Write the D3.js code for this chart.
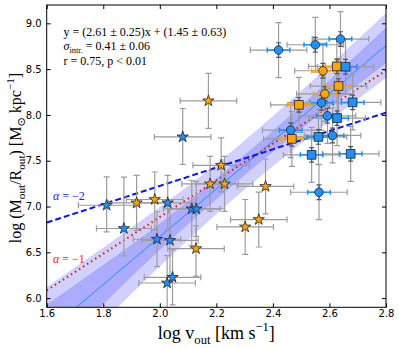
<!DOCTYPE html>
<html>
<head>
<meta charset="utf-8">
<script src="https://cdn.jsdelivr.net/npm/d3@7"></script>
<style>
  body { margin: 0; background: #fff; }
  svg { display: block; }
</style>
</head>
<body>
<div id="chart"></div>
<script>
// ___________________________ data ___________________________
// v = log v_out, m = log(M_out/R_out)
const starBlueV = [1.812, 1.873, 1.990, 2.028, 2.036, 2.026, 2.045, 2.081, 2.113, 2.129];
const starBlueM = [7.014, 6.760, 6.643, 7.040, 6.630, 6.165, 6.227, 7.760, 6.974, 6.974];
const starBlueXErr = [0.10, 0.097, 0.084, 0.10, 0.10, 0.10, 0.10, 0.10, 0.10, 0.10];
const starBlueYLo = [0.29, 0.30, 0.30, 0.30, 0.40, 0.30, 0.30, 0.30, 0.40, 0.30];
const starBlueYHi = [0.31, 0.56, 0.30, 0.30, 0.34, 0.30, 0.30, 0.31, 0.31, 0.30];

const starOrangeV = [1.918, 1.982, 2.128, 2.172, 2.178, 2.217, 2.229, 2.302, 2.350, 2.374];
const starOrangeM = [7.040, 7.077, 6.540, 8.154, 7.247, 7.450, 7.247, 6.777, 6.858, 7.219];
const starOrangeXErr = [0.10, 0.10, 0.10, 0.10, 0.10, 0.10, 0.10, 0.10, 0.10, 0.10];
const starOrangeYLo = [0.30, 0.33, 0.30, 0.30, 0.30, 0.29, 0.30, 0.30, 0.30, 0.30];
const starOrangeYHi = [0.30, 0.30, 0.25, 0.30, 0.30, 0.30, 0.30, 0.30, 0.30, 0.30];

const circleBlueV = [2.420, 2.463, 2.550, 2.563, 2.572, 2.593, 2.611, 2.639];
const circleBlueM = [8.708, 7.834, 8.766, 7.156, 8.132, 7.990, 7.776, 8.828];
const circleOrangeV = [2.577, 2.584];
const circleOrangeM = [8.482, 8.230];
const squareBlueV = [2.537, 2.561, 2.627, 2.657, 2.675, 2.682];
const squareBlueM = [7.564, 7.760, 7.965, 8.526, 7.575, 8.137];
const squareOrangeV = [2.467, 2.492, 2.626, 2.632];
const squareOrangeM = [7.739, 8.110, 8.530, 8.315];
// errors of the high-velocity group (total in grey, inner part in colour)
const outerXErr = 0.10, innerXErr = 0.04, outerYErr = 0.30, innerYErr = 0.08;

// fit and its shaded bands
const fitSlope = 2.61, fitIntercept = 1.45;
const bandV = [1.6, 1.8, 2.0, 2.2, 2.4, 2.6, 2.8];
const innerLo = [5.326, 5.938, 6.530, 7.082, 7.604, 8.096, 8.568];
const innerHi = [5.926, 6.358, 6.810, 7.302, 7.824, 8.376, 8.948];
const outerLo = [5.136, 5.748, 6.350, 6.922, 7.444, 7.936, 8.408];
const outerHi = [6.116, 6.548, 6.990, 7.462, 7.984, 8.536, 9.108];

// reference slopes: alpha = -2 and alpha = -1
const alpha2Slope = 1, alpha2Intercept = 5.225;
const alpha1Slope = 2, alpha1Intercept = 2.885;

const xTicks = [1.6, 1.8, 2.0, 2.2, 2.4, 2.6, 2.8];
const yTicks = [6.0, 6.5, 7.0, 7.5, 8.0, 8.5, 9.0];

// ___________________________ chart ___________________________
const width = 399, height = 348;
const margin = { top: 5, right: 13, bottom: 40.7, left: 46.7 };
const serif = "'Liberation Serif', 'Times New Roman', serif";
const blue = "#1e90ff", orange = "#ffa500";

const svg = d3.select("#chart").append("svg")
    .attr("width", width)
    .attr("height", height);

const x = d3.scaleLinear().domain([1.6, 2.8]).range([margin.left, width - margin.right]);
const y = d3.scaleLinear().domain([5.9, 9.2]).range([height - margin.bottom, margin.top]);

svg.append("clipPath").attr("id", "plot-clip")
    .append("rect")
    .attr("x", x.range()[0]).attr("y", y.range()[1])
    .attr("width", x.range()[1] - x.range()[0])
    .attr("height", y.range()[0] - y.range()[1]);

const plot = svg.append("g").attr("clip-path", "url(#plot-clip)");

// bands
const bandData = bandV.map((v, i) => ({ v: v, iLo: innerLo[i], iHi: innerHi[i], oLo: outerLo[i], oHi: outerHi[i] }));
const outerArea = d3.area().curve(d3.curveMonotoneX)
    .x(d => x(d.v)).y0(d => y(d.oLo)).y1(d => y(d.oHi));
const innerArea = d3.area().curve(d3.curveMonotoneX)
    .x(d => x(d.v)).y0(d => y(d.iLo)).y1(d => y(d.iHi));

plot.append("path").datum(bandData).attr("d", outerArea)
    .attr("fill", "#0000ff").attr("fill-opacity", 0.18)
    .attr("stroke", "#0000ff").attr("stroke-opacity", 0.1).attr("stroke-width", 0.8);
plot.append("path").datum(bandData).attr("d", innerArea)
    .attr("fill", "#0000ff").attr("fill-opacity", 0.18)
    .attr("stroke", "#0000ff").attr("stroke-opacity", 0.1).attr("stroke-width", 0.8);

// lines
function addLine(slope, intercept, color, w, dash) {
    const [v0, v1] = x.domain();
    plot.append("line")
        .attr("x1", x(v0)).attr("y1", y(slope * v0 + intercept))
        .attr("x2", x(v1)).attr("y2", y(slope * v1 + intercept))
        .attr("stroke", color)
        .attr("stroke-width", w)
        .attr("stroke-dasharray", dash);
}
addLine(fitSlope, fitIntercept, blue, 1, null);
addLine(alpha1Slope, alpha1Intercept, "#ff1010", 2, "1.6,3.2");
addLine(alpha2Slope, alpha2Intercept, "#1010ff", 2, "6,3");

// build point lists
function makePoints(vs, ms, xe, ylo, yhi) {
    return vs.map((v, i) => ({
        v: v, m: ms[i],
        xe: Array.isArray(xe) ? xe[i] : xe,
        ylo: Array.isArray(ylo) ? ylo[i] : ylo,
        yhi: Array.isArray(yhi) ? yhi[i] : yhi
    }));
}
const starsBlue = makePoints(starBlueV, starBlueM, starBlueXErr, starBlueYLo, starBlueYHi);
const starsOrange = makePoints(starOrangeV, starOrangeM, starOrangeXErr, starOrangeYLo, starOrangeYHi);
const circlesBlue = makePoints(circleBlueV, circleBlueM, outerXErr, outerYErr, outerYErr);
const circlesOrange = makePoints(circleOrangeV, circleOrangeM, outerXErr, outerYErr, outerYErr);
const squaresBlue = makePoints(squareBlueV, squareBlueM, outerXErr, outerYErr, outerYErr);
const squaresOrange = makePoints(squareOrangeV, squareOrangeM, outerXErr, outerYErr, outerYErr);

// error bars
function errorBars(points, color, w, cap, xeFn, yloFn, yhiFn) {
    const g = plot.append("g").attr("stroke", color).attr("stroke-width", w).attr("fill", "none");
    points.forEach(d => {
        const cx = x(d.v), cy = y(d.m);
        const xe = xeFn(d), ylo = yloFn(d), yhi = yhiFn(d);
        if (xe > 0) {
            const xa = x(d.v - xe), xb = x(d.v + xe);
            g.append("path").attr("d",
                `M${xa},${cy}H${xb}M${xa},${cy - cap}V${cy + cap}M${xb},${cy - cap}V${cy + cap}`);
        }
        if (ylo > 0 || yhi > 0) {
            const ya = y(d.m - ylo), yb = y(d.m + yhi);
            g.append("path").attr("d",
                `M${cx},${ya}V${yb}M${cx - cap},${ya}H${cx + cap}M${cx - cap},${yb}H${cx + cap}`);
        }
    });
}
const allStars = starsBlue.concat(starsOrange);
const allHigh = circlesBlue.concat(circlesOrange, squaresBlue, squaresOrange);
errorBars(allStars, "#9c9c9c", 1.2, 3, d => d.xe, d => d.ylo, d => d.yhi);
errorBars(allHigh, "#9c9c9c", 1.2, 3, d => d.xe, d => d.ylo, d => d.yhi);
errorBars(allHigh, "#555", 1.2, 2.5, d => 0, d => innerYErr, d => innerYErr);
errorBars(circlesBlue.concat(squaresBlue), blue, 1.5, 2.5, d => innerXErr, d => 0, d => 0);
errorBars(circlesOrange.concat(squaresOrange), orange, 1.5, 2.5, d => innerXErr, d => 0, d => 0);

// markers
function markers(points, type, size, color) {
    plot.append("g").selectAll("path")
        .data(points)
        .enter()
        .append("path")
        .attr("transform", d => `translate(${x(d.v)},${y(d.m)})`)
        .attr("d", d3.symbol().type(type).size(size))
        .attr("fill", color)
        .attr("stroke", "#222")
        .attr("stroke-width", 0.8);
}
markers(starsOrange, d3.symbolStar, 40, orange);
markers(starsBlue, d3.symbolStar, 40, blue);
markers(squaresOrange, d3.symbolSquare, 76, orange);
markers(squaresBlue, d3.symbolSquare, 76, blue);
markers(circlesOrange, d3.symbolCircle, 58, orange);
markers(circlesBlue, d3.symbolCircle, 58, blue);

// axes: ticks inward on all four sides
const fmt = d3.format(".1f");
const axB = svg.append("g").attr("transform", `translate(0,${y.range()[0]})`)
    .call(d3.axisBottom(x).tickValues(xTicks).tickFormat(fmt).tickSizeInner(-4).tickSizeOuter(0).tickPadding(3));
const axL = svg.append("g").attr("transform", `translate(${x.range()[0]},0)`)
    .call(d3.axisLeft(y).tickValues(yTicks).tickFormat(fmt).tickSizeInner(-4).tickSizeOuter(0).tickPadding(5));
const axT = svg.append("g").attr("transform", `translate(0,${y.range()[1]})`)
    .call(d3.axisTop(x).tickValues(xTicks).tickFormat("").tickSizeInner(-4).tickSizeOuter(0));
const axR = svg.append("g").attr("transform", `translate(${x.range()[1]},0)`)
    .call(d3.axisRight(y).tickValues(yTicks).tickFormat("").tickSizeInner(-4).tickSizeOuter(0));
[axB, axL, axT, axR].forEach(a => {
    a.select(".domain").remove();
    a.selectAll("line").attr("stroke", "#000").attr("stroke-width", 1);
    a.selectAll("text").style("font-family", "'DejaVu Sans', sans-serif").style("font-size", "10px").attr("fill", "#000");
});

svg.append("rect")
    .attr("x", x.range()[0]).attr("y", y.range()[1])
    .attr("width", x.range()[1] - x.range()[0])
    .attr("height", y.range()[0] - y.range()[1])
    .attr("fill", "none").attr("stroke", "#000").attr("stroke-width", 1);

// rich text with sub/superscripts
function rich(parent, parts, size, attrs) {
    const t = parent.append("text")
        .style("font-family", serif)
        .style("font-size", size + "px");
    Object.keys(attrs).forEach(k => t.attr(k, attrs[k]));
    let off = 0;
    parts.forEach(p => {
        const target = p.sub ? size * 0.25 : p.sup ? -size * 0.42 : 0;
        const s = t.append("tspan")
            .attr("dy", target - off)
            .style("font-size", (p.sub || p.sup ? size * 0.7 : size) + "px")
            .text(p.t);
        if (p.it) s.style("font-style", "italic");
        if (p.font) s.style("font-family", p.font);
        off = target;
    });
    return t;
}

// axis titles
rich(svg, [{ t: "log v" }, { t: "out", sub: true }, { t: " [km s" }, { t: "\u22121", sup: true }, { t: "]" }], 18,
    { x: (x.range()[0] + x.range()[1]) / 2, y: 339, "text-anchor": "middle" });
rich(svg.append("g").attr("transform", "translate(21,158) rotate(-90)"),
    [{ t: "log (M" }, { t: "out", sub: true }, { t: "/R" }, { t: "out", sub: true }, { t: ") [M" },
     { t: "\u2299", sub: true, font: "'DejaVu Sans'" }, { t: " kpc" }, { t: "\u22121", sup: true }, { t: "]" }], 16,
    { x: 0, y: 0, "text-anchor": "middle" });

// fit annotation
rich(svg, [{ t: "y = (2.61 \u00b1 0.25)x + (1.45 \u00b1 0.63)" }], 12, { x: 63.5, y: 36 });
rich(svg, [{ t: "\u03c3", it: true }, { t: "intr.", sub: true }, { t: " = 0.41 \u00b1 0.06" }], 12, { x: 63.5, y: 50 });
rich(svg, [{ t: "r = 0.75, p < 0.01" }], 12, { x: 63.5, y: 64.5 });

// slope labels
rich(svg, [{ t: "\u03b1", it: true }, { t: " = \u22122" }], 12, { x: 53, y: 200, fill: "#2020ff" });
rich(svg, [{ t: "\u03b1", it: true }, { t: " = \u22121" }], 12, { x: 53, y: 263, fill: "#ff2020" });
</script>
</body>
</html>
